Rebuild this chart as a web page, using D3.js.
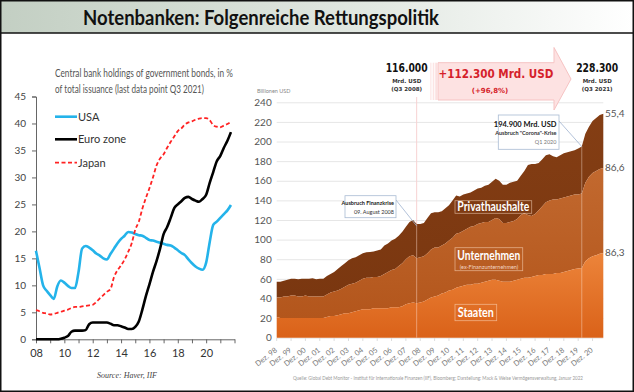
<!DOCTYPE html>
<html>
<head>
<meta charset="utf-8">
<script src="https://cdn.jsdelivr.net/npm/d3@7"></script>
<style>
  html, body { margin: 0; padding: 0; background: #fff; }
  svg { display: block; font-family: Lato, "Open Sans", sans-serif; }
</style>
</head>
<body>
<div id="chart"></div>
<script>
// ---- Left chart: central bank holdings, % of issuance (quarterly, 2008 Q1 .. 2021 Q4 grid) ----
const leftYearTicks = ['08', '10', '12', '14', '16', '18', '20'];
const usa = [16.4, 13.2, 10.0, 9.0, 8.2, 7.5, 9.8, 10.9, 10.5, 9.9, 9.5, 9.5,
  12.5, 16.8, 17.3, 17.0, 16.5, 15.9, 15.5, 15.0, 14.8, 15.8, 16.8, 17.8,
  18.6, 19.2, 19.9, 19.8, 19.5, 19.3, 19.2, 18.8, 18.4, 18.3, 18.1, 17.9,
  17.7, 17.5, 17.4, 17.0, 16.5, 16.0, 15.6, 14.8, 14.1, 13.5, 13.1, 12.9,
  14.2, 18.0, 21.2, 21.8, 22.5, 23.2, 23.9, 24.9];
const euroZone = [0, 0, 0, 0, 0, 0, 0, 0.1, 0.3, 0.6, 1.4, 1.6,
  1.6, 1.6, 1.7, 2.8, 3.1, 3.1, 3.1, 3.1, 3.1, 2.9, 2.6, 2.6,
  2.4, 2.2, 1.9, 1.9, 2.3, 3.3, 5.5, 8.0, 10.2, 12.5, 14.5, 16.8,
  19.5, 20.8, 22.5, 24.3, 25.0, 25.6, 26.2, 26.4, 26.0, 25.7, 25.5, 26.0,
  26.8, 29.0, 31.0, 33.0, 34.0, 35.5, 36.8, 38.4];
const japan = [5.4, 5.2, 4.9, 4.8, 4.6, 4.7, 4.9, 5.1, 5.3, 5.5, 5.8, 6.0,
  6.0, 6.1, 6.2, 6.3, 6.4, 6.9, 7.6, 8.2, 8.8, 9.3, 11.5, 12.8,
  13.7, 14.8, 16.2, 17.8, 20.3, 21.8, 24.2, 26.2, 28.0, 30.0, 32.2, 33.5,
  34.3, 35.5, 36.6, 37.6, 38.6, 39.1, 39.8, 40.2, 40.4, 40.7, 40.9, 41.0,
  41.0, 40.6, 39.7, 39.4, 39.3, 39.6, 39.9, 40.3];

// ---- Right chart: global debt in Billionen USD, quarterly Dez. 98 .. Q3 2021 ----
const rightXLabels = ['Dez. 98', 'Dez. 99', 'Dez. 00', 'Dez. 01', 'Dez. 02', 'Dez. 03', 'Dez. 04',
  'Dez. 05', 'Dez. 06', 'Dez. 07', 'Dez. 08', 'Dez. 09', 'Dez. 10', 'Dez. 11', 'Dez. 12',
  'Dez. 13', 'Dez. 14', 'Dez. 15', 'Dez. 16', 'Dez. 17', 'Dez. 18', 'Dez. 19', 'Dez. 20'];
// top of the "Staaten" layer
const staaten = [21,
  20, 20, 20, 20, 20, 20, 20, 20, 20, 20, 20, 20,
  20, 21, 22, 22, 23, 24, 25, 25, 26, 27, 28, 29,
  29, 29, 30, 30, 30, 30, 30, 31, 31, 31, 32, 34,
  35, 36, 35, 36, 37, 39, 41, 42, 43, 45, 46, 48,
  49, 51, 52, 53, 54, 54, 55, 55, 56, 57, 58, 59,
  59, 58, 57, 57, 57, 58, 59, 60, 61, 61, 62, 63,
  64, 64, 65, 65, 65, 66, 66, 67, 68, 69, 70, 70.5,
  71, 78, 81, 83, 84, 85.5, 86.3];
// top of the "Unternehmen" layer (Staaten + Unternehmen)
const bisUnternehmen = [41,
  41, 42, 42, 43, 43, 42, 42, 43, 42, 42, 42, 42,
  42, 44, 46, 47, 48, 50, 52, 54, 55, 56, 58, 60,
  61, 61, 62, 62, 63, 65, 67, 69, 70, 73, 76, 80,
  83, 84, 81, 82, 83, 86, 90, 92, 92, 94, 96, 99,
  102, 106, 107, 109, 111, 113, 114, 116, 117, 118, 118, 120,
  122, 121, 117, 117, 118, 119, 121, 125, 127, 125, 124, 126,
  130, 134, 138, 140, 141, 141, 142, 143, 144, 145, 146, 146,
  147, 158, 164, 168, 170, 172, 172.9];
// total (top of "Privathaushalte")
const gesamt = [57,
  57, 58, 59, 60, 60, 59.5, 60, 60, 60, 60.5, 59.5, 60,
  60, 63, 65, 67, 70, 73, 76, 79, 81, 82, 84, 86,
  87, 87.5, 88, 89, 90, 94, 96, 99, 101, 104, 108, 113,
  118, 120, 116, 116, 117, 122, 127, 128, 128, 129, 132, 135,
  140, 145, 144, 146, 147, 148, 150, 152, 153, 155, 156, 159,
  162, 160, 156, 156, 158, 159, 160, 165, 170, 176, 177, 177,
  178, 182, 186, 187, 185, 184, 186, 188, 189, 190, 191, 193,
  194.9, 208, 215, 221, 224, 227, 228.3];
const endLabels = ['55,4', '86,6', '86,3'];

const W = 634, H = 392;
const svg = d3.select('#chart').append('svg')
  .attr('width', W).attr('height', H);

const defs = svg.append('defs');
const grad = (id, stops, x2 = 0, y2 = 1) => {
  const g = defs.append('linearGradient').attr('id', id)
    .attr('x1', 0).attr('y1', 0).attr('x2', x2).attr('y2', y2);
  stops.forEach(([o, c]) => g.append('stop').attr('offset', o).attr('stop-color', c));
};
grad('titleBg', [[0, '#c3cfc3'], [0.6, '#e3e9e3'], [1, '#ffffff']], 1, 0);
grad('gStaaten', [[0, '#ec843a'], [1, '#da6219']]);
grad('gUntern', [[0, '#c2692f'], [1, '#b3561c']]);
grad('gPrivat', [[0, '#843e14'], [1, '#7a3710']]);

// ---- title banner ----
svg.append('rect').attr('x', 1).attr('y', 1).attr('width', W - 2).attr('height', 32)
  .attr('fill', 'url(#titleBg)');
svg.append('line').attr('x1', 0).attr('x2', W).attr('y1', 33).attr('y2', 33)
  .attr('stroke', '#111').attr('stroke-width', 1.5);
svg.append('text').attr('x', 261).attr('y', 25).attr('text-anchor', 'middle')
  .attr('font-size', 21).attr('font-weight', 700).attr('fill', '#111')
  .attr('textLength', 356).attr('lengthAdjust', 'spacingAndGlyphs')
  .text('Notenbanken: Folgenreiche Rettungspolitik');

// ================= LEFT CHART =================
const lx = d3.scaleLinear().domain([2008, 2022]).range([36, 234.5]);
const ly = d3.scaleLinear().domain([0, 45]).range([339.3, 96.5]);
const lq = d3.range(usa.length).map(i => 2008 + i * 0.25);

svg.append('text').attr('x', 55).attr('y', 77).attr('font-size', 10.5).attr('fill', '#555')
  .attr('textLength', 178).attr('lengthAdjust', 'spacingAndGlyphs')
  .text('Central bank holdings of government bonds, in %');
svg.append('text').attr('x', 55).attr('y', 93).attr('font-size', 10.5).attr('fill', '#555')
  .attr('textLength', 149).attr('lengthAdjust', 'spacingAndGlyphs')
  .text('of total issuance (last data point Q3 2021)');

const lyAxis = svg.append('g').attr('transform', 'translate(36,0)')
  .call(d3.axisLeft(ly).tickValues(d3.range(0, 46, 5)).tickSize(4).tickPadding(6));
lyAxis.selectAll('text').attr('font-size', 10).attr('fill', '#444').attr('font-family', 'Lato');
lyAxis.selectAll('line, path').attr('stroke', '#666');

const lxAxis = svg.append('g').attr('transform', 'translate(0,339.3)')
  .call(d3.axisBottom(lx).tickValues(d3.range(2008, 2023)).tickSize(4).tickSizeOuter(0)
    .tickFormat(d => (d % 2 === 0 && d <= 2020) ? leftYearTicks[(d - 2008) / 2] : ''));
lxAxis.selectAll('text').attr('font-size', 11).attr('fill', '#333').attr('dy', '1.0em')
  .attr('font-family', 'Lato');
lxAxis.selectAll('line, path').attr('stroke', '#666');

const lline = d3.line().x((d, i) => lx(lq[i])).y(d => ly(d)).curve(d3.curveMonotoneX);
svg.append('path').datum(usa).attr('d', lline).attr('fill', 'none')
  .attr('stroke', '#24b3ea').attr('stroke-width', 2.6).attr('stroke-linejoin', 'round');
svg.append('path').datum(japan).attr('d', lline).attr('fill', 'none')
  .attr('stroke', '#ff2222').attr('stroke-width', 1.8).attr('stroke-dasharray', '4,2.5');
svg.append('path').datum(euroZone).attr('d', lline).attr('fill', 'none')
  .attr('stroke', '#000').attr('stroke-width', 2.6).attr('stroke-linejoin', 'round');

// legend
const legend = [
  { name: 'USA', color: '#24b3ea', dash: null, w: 2.6, y: 116.7 },
  { name: 'Euro zone', color: '#000', dash: null, w: 2.6, y: 139.3 },
  { name: 'Japan', color: '#ff2222', dash: '4,2.5', w: 1.8, y: 162.7 }
];
const lg = svg.append('g').selectAll('g').data(legend).join('g')
  .attr('transform', d => `translate(0,${d.y})`);
lg.append('line').attr('x1', 55).attr('x2', 77)
  .attr('stroke', d => d.color).attr('stroke-width', d => d.w)
  .attr('stroke-dasharray', d => d.dash);
lg.append('text').attr('x', 78).attr('y', 4).attr('font-size', 11).attr('fill', '#333')
  .text(d => d.name);

svg.append('text').attr('x', 127).attr('y', 378).attr('text-anchor', 'middle')
  .attr('font-family', '"Liberation Serif", serif').attr('font-style', 'italic')
  .attr('font-size', 8).attr('fill', '#444').text('Source: Haver, IIF');

// ================= RIGHT CHART =================
const rq = d3.range(gesamt.length).map(i => 1998 + 11 / 12 + i * 0.25);
const rx = d3.scaleLinear().domain([1998 + 11 / 12, 2021 + 8 / 12]).range([276.7, 603.3]);
const ry = d3.scaleLinear().domain([0, 240]).range([337.7, 102.3]);

svg.append('text').attr('x', 257).attr('y', 93).attr('font-size', 5.5).attr('fill', '#888')
  .text('Billionen USD');

// grid + y labels
const ryAxis = svg.append('g').attr('transform', 'translate(276.7,0)')
  .call(d3.axisLeft(ry).tickValues(d3.range(0, 241, 20)).tickSize(-326.6).tickPadding(5));
ryAxis.select('.domain').remove();
ryAxis.selectAll('line').attr('stroke', '#e6e6e6').attr('stroke-width', 1);
ryAxis.selectAll('text').attr('font-size', 10).attr('fill', '#555').attr('font-family', 'Lato');

// Q3 2008 marker line (behind arrow region)
const x2008 = rx(2008 + 8 / 12);
const x2020 = rx(2020 + 2 / 12);
svg.append('line').attr('x1', x2008).attr('x2', x2008).attr('y1', 97).attr('y2', 337.7)
  .attr('stroke', '#f7d2d2').attr('stroke-width', 1);

// stacked layers
const area = (lo, hi) => d3.area()
  .x((d, i) => rx(rq[i])).y0((d, i) => ry(lo ? lo[i] : 0)).y1((d, i) => ry(hi[i]));
svg.append('path').datum(gesamt).attr('d', area(bisUnternehmen, gesamt)).attr('fill', 'url(#gPrivat)');
svg.append('path').datum(gesamt).attr('d', area(staaten, bisUnternehmen)).attr('fill', 'url(#gUntern)');
svg.append('path').datum(gesamt).attr('d', area(null, staaten)).attr('fill', 'url(#gStaaten)');

// marker lines over the areas
svg.append('line').attr('x1', x2008).attr('x2', x2008).attr('y1', ry(116)).attr('y2', 337.7)
  .attr('stroke', 'rgba(255,225,215,0.45)').attr('stroke-width', 1);
svg.append('line').attr('x1', x2020).attr('x2', x2020).attr('y1', ry(194.9)).attr('y2', 337.7)
  .attr('stroke', 'rgba(255,235,225,0.4)').attr('stroke-width', 1);

// x labels
const rxAxis = svg.append('g').attr('transform', 'translate(0,338)');
rxAxis.selectAll('line').data(rightXLabels).join('line')
  .attr('x1', (d, i) => rx(1998 + 11 / 12 + i)).attr('x2', (d, i) => rx(1998 + 11 / 12 + i))
  .attr('y1', 0).attr('y2', 3).attr('stroke', '#ddd');
rxAxis.selectAll('text').data(rightXLabels).join('text')
  .attr('transform', (d, i) => `translate(${rx(1998 + 11 / 12 + i) + 1},${13}) rotate(-38)`)
  .attr('text-anchor', 'end').attr('font-size', 7.5).attr('fill', '#777')
  .text(d => d);

// end labels
const endVals = [gesamt[gesamt.length - 1], bisUnternehmen[bisUnternehmen.length - 1], staaten[staaten.length - 1]];
svg.append('g').selectAll('text').data(endLabels).join('text')
  .attr('x', 605).attr('y', (d, i) => ry(endVals[i]) + 3)
  .attr('font-size', 10).attr('fill', '#555').text(d => d);

// big arrow
const arrow = svg.append('g');
arrow.append('path')
  .attr('d', 'M438,62.7 L554,62.7 L554,47.5 L571,79 L554,110 L554,100 L438,100 Z')
  .attr('fill', '#fde2e2').attr('stroke', '#f6c3c3').attr('stroke-width', 1);
[430, 432.7, 435.3].forEach((x, i) => arrow.append('rect')
  .attr('x', x).attr('y', 62.7).attr('width', 1.6).attr('height', 37.3)
  .attr('fill', '#fbd9d9').attr('opacity', 0.5 + i * 0.2));
svg.append('text').attr('x', 496).attr('y', 77.5).attr('text-anchor', 'middle')
  .attr('font-family', '"DejaVu Sans", sans-serif').attr('font-weight', 700)
  .attr('font-size', 13).attr('fill', '#d51f2b')
  .attr('textLength', 115).attr('lengthAdjust', 'spacingAndGlyphs')
  .text('+112.300 Mrd. USD');
svg.append('text').attr('x', 490).attr('y', 92.5).attr('text-anchor', 'middle')
  .attr('font-family', '"DejaVu Sans", sans-serif').attr('font-size', 7).attr('font-weight', 700)
  .attr('fill', '#d51f2b').text('(+96,8%)');

// left / right totals
const totals = [
  { x: 406.7, big: '116.000', q: '(Q3 2008)' },
  { x: 597.2, big: '228.300', q: '(Q3 2021)' }
];
const tg = svg.append('g').selectAll('g').data(totals).join('g');
tg.append('text').attr('x', d => d.x).attr('y', 71.7).attr('text-anchor', 'middle')
  .attr('font-family', '"DejaVu Sans", sans-serif').attr('font-weight', 700)
  .attr('font-size', 12.5).attr('fill', '#111')
  .attr('textLength', 42).attr('lengthAdjust', 'spacingAndGlyphs').text(d => d.big);
tg.append('text').attr('x', d => d.x).attr('y', 82.5).attr('text-anchor', 'middle')
  .attr('font-family', '"DejaVu Sans", sans-serif').attr('font-weight', 700)
  .attr('font-size', 5.5).attr('fill', '#333').text('Mrd. USD');
tg.append('text').attr('x', d => d.x).attr('y', 91).attr('text-anchor', 'middle')
  .attr('font-family', '"DejaVu Sans", sans-serif').attr('font-weight', 700)
  .attr('font-size', 5.5).attr('fill', '#333').text(d => d.q);

// callouts
svg.append('line').attr('x1', 396).attr('y1', 200).attr('x2', x2008).attr('y2', ry(116) + 2)
  .attr('stroke', '#9fb3cf').attr('stroke-width', 0.8);
svg.append('rect').attr('x', 345).attr('y', 195.7).attr('width', 51).attr('height', 22)
  .attr('fill', '#fff').attr('stroke', '#a9bbd3').attr('stroke-width', 0.8);
svg.append('text').attr('x', 394).attr('y', 204.5).attr('text-anchor', 'end')
  .attr('font-size', 5.5).attr('font-weight', 700).attr('fill', '#222').text('Ausbruch Finanzkrise');
svg.append('text').attr('x', 394).attr('y', 213.5).attr('text-anchor', 'end')
  .attr('font-size', 5.5).attr('fill', '#333').text('09. August 2008');

svg.append('line').attr('x1', 559).attr('y1', 121).attr('x2', x2020).attr('y2', ry(194.9))
  .attr('stroke', '#9fb3cf').attr('stroke-width', 0.8);
svg.append('rect').attr('x', 498.3).attr('y', 115).attr('width', 60.7).attr('height', 34.3)
  .attr('fill', '#fff').attr('stroke', '#a9bbd3').attr('stroke-width', 0.8);
svg.append('text').attr('x', 556.5).attr('y', 127).attr('text-anchor', 'end')
  .attr('font-size', 7.5).attr('font-weight', 700).attr('fill', '#111').text('194.900 Mrd. USD');
svg.append('text').attr('x', 556.5).attr('y', 135).attr('text-anchor', 'end')
  .attr('font-size', 5.5).attr('font-weight', 700).attr('fill', '#333').text('Ausbruch "Corona"-Krise');
svg.append('text').attr('x', 556.5).attr('y', 143.5).attr('text-anchor', 'end')
  .attr('font-size', 5.5).attr('fill', '#777').text('Q1 2020');

// layer labels
const boxes = [
  { x: 455, y: 200.7, w: 76.7, h: 12.6, t: 'Privathaushalte', ty: 211.3, tl: 72 },
  { x: 455, y: 247.7, w: 67.7, h: 23, t: 'Unternehmen', ty: 260, tl: 63 },
  { x: 455, y: 304.3, w: 41.7, h: 16.4, t: 'Staaten', ty: 317.3, tl: 36 }
];
const bg = svg.append('g').selectAll('g').data(boxes).join('g');
bg.append('rect').attr('x', d => d.x).attr('y', d => d.y).attr('width', d => d.w).attr('height', d => d.h)
  .attr('fill', 'none').attr('stroke', 'rgba(255,225,200,0.6)').attr('stroke-width', 0.8);
bg.append('text').attr('x', d => d.x + d.w / 2).attr('y', d => d.ty).attr('text-anchor', 'middle')
  .attr('font-size', 12.5).attr('font-weight', 700).attr('fill', '#fff')
  .attr('textLength', d => d.tl).attr('lengthAdjust', 'spacingAndGlyphs').text(d => d.t);
svg.append('text').attr('x', 489).attr('y', 268.5).attr('text-anchor', 'middle')
  .attr('font-size', 5.5).attr('fill', '#f3d6c3').text('(ex-Finanzunternehmen)');

// source
svg.append('text').attr('x', 293).attr('y', 380).attr('font-size', 5).attr('fill', '#999')
  .attr('textLength', 290).attr('lengthAdjust', 'spacingAndGlyphs')
  .text('Quelle: Global Debt Monitor - Institut für Internationale Finanzen (IIF), Bloomberg; Darstellung: Mack & Weise Vermögensverwaltung, Januar 2022');

// outer frame
svg.append('rect').attr('x', 0.75).attr('y', 0.75).attr('width', W - 1.5).attr('height', H - 1.5)
  .attr('fill', 'none').attr('stroke', '#111').attr('stroke-width', 1.5);
</script>
</body>
</html>
